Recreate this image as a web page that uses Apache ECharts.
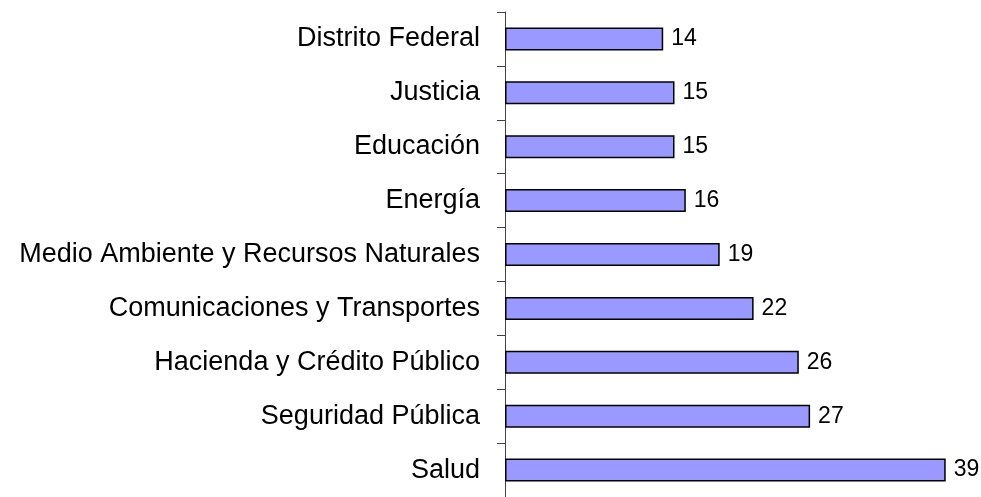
<!DOCTYPE html>
<html>
<head>
<meta charset="utf-8">
<script src="https://cdn.jsdelivr.net/npm/echarts@6/dist/echarts.min.js"></script>
<style>
  html, body { margin: 0; padding: 0; background: #fff; }
  #chart { width: 981px; height: 497px; }
</style>
</head>
<body>
<div id="chart"></div>
<script>
// categories from top to bottom
var categories = [
  'Distrito Federal',
  'Justicia',
  'Educación',
  'Energía',
  'Medio Ambiente y Recursos Naturales',
  'Comunicaciones y Transportes',
  'Hacienda y Crédito Público',
  'Seguridad Pública',
  'Salud'
];
var values = [14, 15, 15, 16, 19, 22, 26, 27, 39];

var chart = echarts.init(document.getElementById('chart'));

var option = {
  animation: false,
  textStyle: {
    fontFamily: 'Liberation Sans, Arial, sans-serif'
  },
  grid: {
    left: 505,
    right: 24,
    top: 12,
    bottom: 0,
    containLabel: false
  },
  xAxis: {
    type: 'value',
    min: 0,
    max: 40,
    show: false
  },
  yAxis: {
    type: 'category',
    inverse: true,
    data: categories,
    axisLine: {
      show: true,
      lineStyle: { color: '#444', width: 1 }
    },
    axisTick: {
      show: true,
      length: 8,
      lineStyle: { color: '#444', width: 1 }
    },
    axisLabel: {
      color: '#000',
      fontSize: 27,
      margin: 25
    }
  },
  series: [{
    type: 'bar',
    data: values,
    barWidth: 23,
    itemStyle: {
      color: '#9999FF',
      borderColor: '#000',
      borderWidth: 1.5
    },
    label: {
      show: true,
      position: 'right',
      distance: 8,
      color: '#000',
      fontSize: 23
    }
  }]
};

chart.setOption(option);
</script>
</body>
</html>
